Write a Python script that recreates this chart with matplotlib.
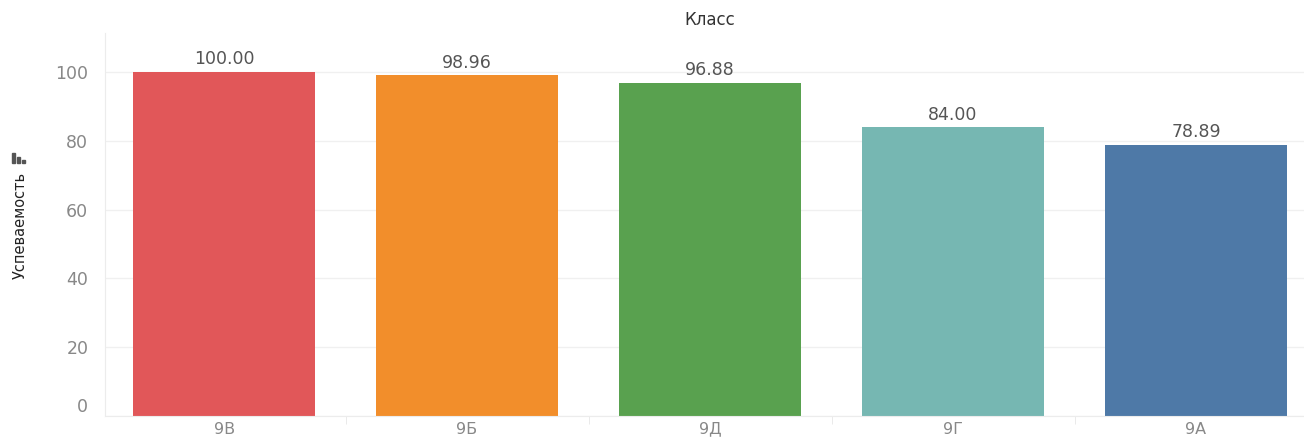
import numpy as np
import matplotlib
matplotlib.use('Agg')
import matplotlib.pyplot as plt
from matplotlib.patches import Rectangle

# данные
classes = ['9В', '9Б', '9Д', '9Г', '9А']
values = [100.00, 98.96, 96.88, 84.00, 78.89]
colors = ['#E15759', '#F28E2B', '#59A14F', '#76B7B2', '#4E79A7']
yticks = [0, 20, 40, 60, 80, 100]

W, H = 1304, 441
fig = plt.figure(figsize=(W / 100, H / 100), dpi=100)
ax = fig.add_axes([105 / W, 25 / H, 1 - 105 / W, 383 / H])

x = np.arange(len(classes))
ax.bar(x, values, width=0.75, color=colors, zorder=2)
for xi, v in zip(x, values):
    ax.text(xi, v + 1.0, '%.2f' % v, ha='center', va='bottom',
            fontsize=12.5, color='#555555')

ax.set_yticks(yticks)
ax.set_yticklabels([str(t) for t in yticks], fontsize=12.5, color='#888888')
ax.tick_params(axis='y', length=0, pad=12)
ax.get_yticklabels()[0].set_va('bottom')
ax.grid(axis='y', color='#f0f0f0', linewidth=1, zorder=0)

ax.set_xticks(x)
ax.set_xticklabels(classes, fontsize=11.5, color='#888888')
ax.set_xticks(np.arange(-0.5, len(classes), 1), minor=True)
ax.tick_params(axis='x', which='major', length=0, pad=4)
ax.tick_params(axis='x', which='minor', length=6, color='#e6e6e6')

# пределы после тиков, иначе тики их расширяют
ax.set_xlim(-0.49, (W - 224) / 243)
ax.set_ylim(0, 111.3)

for s in ['top', 'right']:
    ax.spines[s].set_visible(False)
ax.spines['left'].set_color('#ececec')
ax.spines['bottom'].set_color('#ececec')

fig.text(710 / W, 1 - 20 / H, 'Класс', ha='center', va='center',
         fontsize=12, color='#333333')
fig.text(20 / W, 1 - 225 / H, 'Успеваемость', rotation=90,
         ha='center', va='center', fontsize=10.5, color='#222222')

# маленький значок сортировки над подписью оси
for dx, h in [(0, 10), (5, 6), (10, 3)]:
    fig.patches.append(Rectangle(((12 + dx) / W, (H - 163) / H), 3 / W, h / H,
                                 transform=fig.transFigure, color='#555555'))

plt.savefig('out.png', dpi=100)
